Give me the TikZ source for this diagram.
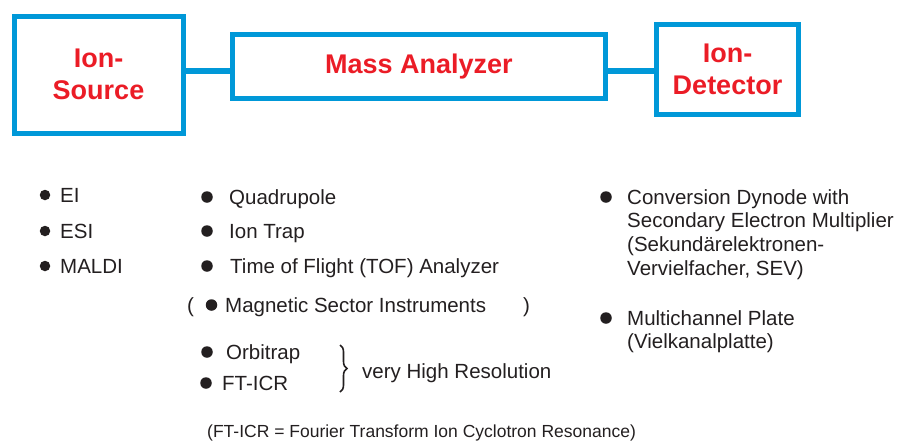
\documentclass[tikz,border=0pt]{standalone}
\usepackage{fontspec}
\setmainfont{Liberation Sans}
\usepackage{tikz}
\usetikzlibrary{decorations.pathreplacing}
\usepackage{xcolor}

\definecolor{boxblue}{RGB}{0,152,216}
\definecolor{boxred}{RGB}{235,28,38}
\definecolor{ink}{RGB}{35,31,32}

\newcommand{\boxfont}{\fontsize{27}{32}\selectfont\bfseries}
\newcommand{\itemfont}{\fontsize{20.5}{23.7}\selectfont}
\newcommand{\notefont}{\fontsize{17.5}{20}\selectfont}

\begin{document}
\begin{tikzpicture}[
            x = 1pt, y = -1pt, % pixel units, y going down
            box/.style = {shape=rectangle, draw=boxblue, line width=5pt,
                text=boxred, font=\boxfont, align=center, inner sep=0pt},
            link/.style = {color=boxblue, line width=6pt}, % box to box
            item/.style = {anchor=base west, inner sep=0pt, text=ink, font=\itemfont},
            dot/.style = {shape=circle, fill=ink, inner sep=0pt, minimum size=11.5pt}
        ]
\useasboundingbox (0,0) rectangle (902,440);

% the three stages
\node[box, minimum width=169pt, minimum height=117pt] (src) at (98.5,74.5) {Ion-\\Source};
\node[box, minimum width=373pt, minimum height=64pt] (ana) at (419,66.5) {Mass Analyzer};
\node[box, minimum width=142pt, minimum height=90pt] (det) at (727.5,69.5) {Ion-\\Detector};

 \path [link] ([yshift=4pt]src.east) edge ([yshift=4pt]src.east -| ana.west);
 \path [link] ([yshift=-4pt]ana.east) edge ([yshift=-4pt]ana.east -| det.west);

% sources
\node[dot, minimum size=10.5pt] (d1) at (45,195) {};
\node[item] (ei) at (60,202) {EI};
\node[dot, minimum size=10.5pt] (d2) at (45,231) {};
\node[item] (esi) at (60,238) {ESI};
\node[dot, minimum size=10.5pt] (d3) at (45,266) {};
\node[item] (maldi) at (60,273) {MALDI};

% analyzers
\node[dot] (d4) at (207,197) {};
\node[item] (quad) at (229,204) {Quadrupole};
\node[dot] (d5) at (207,231) {};
\node[item] (trap) at (229,238) {Ion Trap};
\node[dot] (d6) at (207,266) {};
\node[item] (tof) at (230,273) {Time of Flight (TOF) Analyzer};
\node[item] (lpar) at (187,312) {(};
\node[dot] (d7) at (211.5,305) {};
\node[item] (sector) at (225,312) {Magnetic Sector Instruments};
\node[item] (rpar) at (523,312) {)};
\node[dot] (d8) at (207,352) {};
\node[item] (orbi) at (226,359) {Orbitrap};
\node[dot] (d9) at (206,383) {};
\node[item] (fticr) at (222,390) {FT-ICR};
\coordinate (bt) at (340,345);
\coordinate (bb) at (340,392);
\draw[ink, line width=1.6pt, decorate, decoration={brace, amplitude=7pt}] (bt) -- (bb);
\node[item] (hires) at (362,378) {very High Resolution};
\node[item, font=\notefont] (note) at (207,437) {(FT-ICR = Fourier Transform Ion Cyclotron Resonance)};

% detectors
\node[dot] (d10) at (606,197) {};
\node[item, anchor=north west, align=left] (sev) at (627,189)
    {Conversion Dynode with\\Secondary Electron Multiplier\\(Sekundärelektronen-\\Vervielfacher, SEV)};
\node[dot] (d11) at (606,318) {};
\node[item, anchor=north west, align=left] (mcp) at (627,310)
    {Multichannel Plate\\(Vielkanalplatte)};
\end{tikzpicture}
\end{document}
